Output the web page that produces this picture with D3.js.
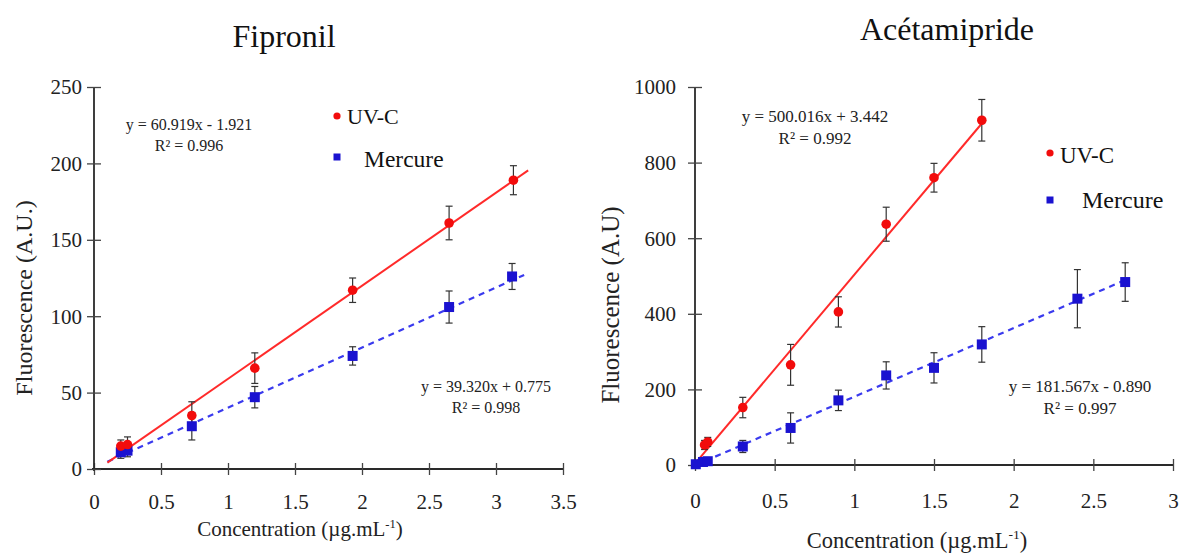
<!DOCTYPE html>
<html>
<head>
<meta charset="utf-8">
<script src="https://cdn.jsdelivr.net/npm/d3@7"></script>
<style>
  html, body { margin: 0; padding: 0; background: #fff; }
  svg { display: block; }
  svg text { font-family: "Liberation Serif", "Times New Roman", serif !important; }
</style>
</head>
<body>
<svg id="chart" width="1179" height="559"></svg>
<script>
// ---------- DATA ----------
// Fipronil
const fipTitle = "Fipronil";
const fipXTicks = [0, 0.5, 1, 1.5, 2, 2.5, 3, 3.5];
const fipYTicks = [0, 50, 100, 150, 200, 250];
const fipUvX   = [0.2, 0.25, 0.73, 1.2, 1.93, 2.65, 3.13];
const fipUvY   = [15, 16, 35, 66, 117, 161, 189];
const fipUvErr = [4, 5, 9, 10, 8, 11, 9.5];
const fipHgX   = [0.2, 0.25, 0.73, 1.2, 1.93, 2.65, 3.12];
const fipHgY   = [11, 12, 28, 47, 74, 106, 126];
const fipHgErr = [4, 4, 9, 7, 6, 10.5, 8.5];
const fipUvFit = [60.919, -1.921];   // slope, intercept
const fipHgFit = [39.320, 0.775];
const fipUvFitRange = [0.1, 3.24];
const fipHgFitRange = [0.1, 3.21];
const fipUvEq = ["y = 60.919x - 1.921", "R² = 0.996"];
const fipHgEq = ["y = 39.320x + 0.775", "R² = 0.998"];

// Acétamipride
const aceTitle = "Acétamipride";
const aceXTicks = [0, 0.5, 1, 1.5, 2, 2.5, 3];
const aceYTicks = [0, 200, 400, 600, 800, 1000];
const aceUvX   = [0.06, 0.08, 0.3, 0.6, 0.9, 1.2, 1.5, 1.8];
const aceUvY   = [53, 61, 152, 265, 405, 637, 760, 912];
const aceUvErr = [12, 12, 27, 54, 40, 45, 38, 55];
const aceHgX   = [0.005, 0.05, 0.08, 0.3, 0.6, 0.9, 1.2, 1.5, 1.8, 2.4, 2.7];
const aceHgY   = [2, 8, 10, 49, 98, 171, 237, 257, 319, 440, 484];
const aceHgErr = [3, 4, 4, 16, 40, 27, 36, 40, 47, 77, 51];
const aceUvFit = [500.016, 3.442];
const aceHgFit = [181.567, -0.890];
const aceUvFitRange = [0, 1.8];
const aceHgFitRange = [0, 2.7];
const aceUvEq = ["y = 500.016x + 3.442", "R² = 0.992"];
const aceHgEq = ["y = 181.567x - 0.890", "R² = 0.997"];

const seriesNames = ["UV-C", "Mercure"];
const yTitleFip = "Fluorescence (A.U.)";
const yTitleAce = "Fluorescence (A.U)";

// ---------- STYLE ----------
const FONT = "Liberation Serif, Times New Roman, serif";
const RED = "#f20c0c", RED_LINE = "#ff2a2a";
const BLUE = "#1a12d0", BLUE_LINE = "#3a3aee";
const AXIS = "#2a2a2a";

const svg = d3.select("#chart");

function drawPanel(cfg) {
  const x = d3.scaleLinear().domain(cfg.xDomain).range(cfg.xRange);
  const y = d3.scaleLinear().domain(cfg.yDomain).range(cfg.yRange);
  const g = svg.append("g").attr("font-family", FONT);

  // title
  g.append("text").attr("x", cfg.titlePos[0]).attr("y", cfg.titlePos[1])
    .attr("text-anchor", "middle").attr("font-size", 32).attr("fill", "#111")
    .attr("font-family", FONT).text(cfg.title);

  // x axis
  const xAxis = g.append("g").attr("transform", `translate(0,${cfg.yRange[0]})`)
    .call(d3.axisBottom(x).tickValues(cfg.xTicks).tickSize(0).tickFormat(d3.format("")));
  xAxis.attr("font-family", FONT);
  xAxis.select(".domain").attr("stroke", AXIS).attr("stroke-width", 1.8)
    .attr("d", `M${cfg.xRange[0] - 2},0H${cfg.xRange[1]}`);
  xAxis.selectAll(".tick line").attr("y1", -6).attr("y2", 6)
    .attr("stroke", "#444").attr("stroke-width", 1.3);
  xAxis.selectAll(".tick text").attr("y", cfg.xLabelDy).attr("dy", 0)
    .attr("font-size", 21).attr("fill", "#222").attr("font-family", FONT);

  // y axis
  const yAxis = g.append("g").attr("transform", `translate(${cfg.xRange[0]},0)`)
    .call(d3.axisLeft(y).tickValues(cfg.yTicks).tickSize(0).tickFormat(d3.format("d")));
  yAxis.attr("font-family", FONT);
  yAxis.select(".domain").attr("stroke", AXIS).attr("stroke-width", 1.8)
    .attr("d", `M0,${cfg.yRange[0] + 2}V${cfg.yRange[1]}`);
  yAxis.selectAll(".tick line").attr("x1", -7).attr("x2", 7)
    .attr("stroke", "#444").attr("stroke-width", 1.3);
  yAxis.selectAll(".tick text").attr("x", -cfg.yLabelGap).attr("dy", "0.33em")
    .attr("font-size", 21).attr("fill", "#222").attr("font-family", FONT);

  // axis titles
  g.append("text")
    .attr("transform", `translate(${cfg.yTitlePos[0]},${cfg.yTitlePos[1]}) rotate(-90)`)
    .attr("text-anchor", "middle").attr("font-size", cfg.yTitleSize).attr("fill", "#222")
    .attr("font-family", FONT).text(cfg.yTitle);
  const xt = g.append("text").attr("x", cfg.xTitlePos[0]).attr("y", cfg.xTitlePos[1])
    .attr("text-anchor", "middle").attr("font-size", cfg.xTitleSize).attr("fill", "#222")
    .attr("font-family", FONT);
  xt.append("tspan").text("Concentration (µg.mL");
  xt.append("tspan").attr("font-size", cfg.xTitleSize * 0.6).attr("dy", -cfg.xTitleSize * 0.4).text("-1");
  xt.append("tspan").attr("dy", cfg.xTitleSize * 0.4).text(")");

  // fit lines
  const line = d3.line().x(d => x(d[0])).y(d => y(d[1]));
  const fitPts = (fit, r) => r.map(v => [v, fit[0] * v + fit[1]]);
  g.append("path").datum(fitPts(cfg.hgFit, cfg.hgFitRange)).attr("d", line)
    .attr("stroke", BLUE_LINE).attr("stroke-width", 2.2).attr("fill", "none")
    .attr("stroke-dasharray", "6,5");
  g.append("path").datum(fitPts(cfg.uvFit, cfg.uvFitRange)).attr("d", line)
    .attr("stroke", RED_LINE).attr("stroke-width", 2).attr("fill", "none");

  // error bars
  function errBars(xs, ys, es) {
    const d = xs.map((v, i) => ({ x: v, y: ys[i], e: es[i] }));
    const eb = g.append("g").attr("stroke", "#333").attr("stroke-width", 1.2);
    eb.selectAll("line.v").data(d).join("line").attr("class", "v")
      .attr("x1", d => x(d.x)).attr("x2", d => x(d.x))
      .attr("y1", d => y(d.y - d.e)).attr("y2", d => y(d.y + d.e));
    eb.selectAll("line.t").data(d).join("line").attr("class", "t")
      .attr("x1", d => x(d.x) - 3.5).attr("x2", d => x(d.x) + 3.5)
      .attr("y1", d => y(d.y + d.e)).attr("y2", d => y(d.y + d.e));
    eb.selectAll("line.b").data(d).join("line").attr("class", "b")
      .attr("x1", d => x(d.x) - 3.5).attr("x2", d => x(d.x) + 3.5)
      .attr("y1", d => y(d.y - d.e)).attr("y2", d => y(d.y - d.e));
  }
  errBars(cfg.hgX, cfg.hgY, cfg.hgErr);
  errBars(cfg.uvX, cfg.uvY, cfg.uvErr);

  // markers
  const s = cfg.sq;
  g.selectAll("rect.hg").data(cfg.hgX.map((v, i) => [v, cfg.hgY[i]])).join("rect")
    .attr("class", "hg")
    .attr("x", d => x(d[0]) - s / 2).attr("y", d => y(d[1]) - s / 2)
    .attr("width", s).attr("height", s).attr("fill", BLUE);
  g.selectAll("circle.uv").data(cfg.uvX.map((v, i) => [v, cfg.uvY[i]])).join("circle")
    .attr("class", "uv")
    .attr("cx", d => x(d[0])).attr("cy", d => y(d[1])).attr("r", cfg.r).attr("fill", RED);

  // equations
  function eq(lines, pos, size) {
    lines.forEach((t, i) => {
      g.append("text").attr("x", pos[0]).attr("y", pos[1] + i * (size + 5))
        .attr("text-anchor", "middle").attr("font-size", size).attr("fill", "#222")
        .attr("font-family", FONT).text(t);
    });
  }
  eq(cfg.uvEq, cfg.uvEqPos, cfg.eqSize);
  eq(cfg.hgEq, cfg.hgEqPos, cfg.eqSize);

  // legend
  const L = cfg.legend;
  g.append("circle").attr("cx", L.uv[0]).attr("cy", L.uv[1]).attr("r", 3.6).attr("fill", RED);
  g.append("text").attr("x", L.uvText[0]).attr("y", L.uvText[1])
    .attr("font-size", L.size[0]).attr("fill", "#111").attr("font-family", FONT).text(seriesNames[0]);
  g.append("rect").attr("x", L.hg[0] - 3.5).attr("y", L.hg[1] - 3.5)
    .attr("width", 7).attr("height", 7).attr("fill", BLUE);
  g.append("text").attr("x", L.hgText[0]).attr("y", L.hgText[1])
    .attr("font-size", L.size[1]).attr("fill", "#111").attr("font-family", FONT).text(seriesNames[1]);
}

drawPanel({
  title: fipTitle, titlePos: [284, 47],
  xDomain: [0, 3.5], xRange: [94, 563], yDomain: [0, 250], yRange: [469, 87],
  xTicks: fipXTicks, yTicks: fipYTicks, xLabelDy: 40, yLabelGap: 12,
  yTitle: yTitleFip, yTitlePos: [32, 298], yTitleSize: 24,
  xTitlePos: [300, 536], xTitleSize: 21,
  uvX: fipUvX, uvY: fipUvY, uvErr: fipUvErr,
  hgX: fipHgX, hgY: fipHgY, hgErr: fipHgErr,
  uvFit: fipUvFit, hgFit: fipHgFit, uvFitRange: fipUvFitRange, hgFitRange: fipHgFitRange,
  uvEq: fipUvEq, hgEq: fipHgEq, uvEqPos: [189, 130], hgEqPos: [486, 392], eqSize: 16,
  r: 4.8, sq: 10,
  legend: { uv: [337, 116], uvText: [347, 124], hg: [337, 157], hgText: [364, 167], size: [22, 23.5] }
});

drawPanel({
  title: aceTitle, titlePos: [947, 40],
  xDomain: [0, 3], xRange: [695, 1173], yDomain: [0, 1000], yRange: [465, 87],
  xTicks: aceXTicks, yTicks: aceYTicks, xLabelDy: 43, yLabelGap: 19,
  yTitle: yTitleAce, yTitlePos: [619, 305], yTitleSize: 25,
  xTitlePos: [917, 548], xTitleSize: 22.5,
  uvX: aceUvX, uvY: aceUvY, uvErr: aceUvErr,
  hgX: aceHgX, hgY: aceHgY, hgErr: aceHgErr,
  uvFit: aceUvFit, hgFit: aceHgFit, uvFitRange: aceUvFitRange, hgFitRange: aceHgFitRange,
  uvEq: aceUvEq, hgEq: aceHgEq, uvEqPos: [815, 122], hgEqPos: [1080, 392], eqSize: 17,
  r: 4.8, sq: 10,
  legend: { uv: [1050, 153], uvText: [1060, 163], hg: [1050, 200], hgText: [1082, 208], size: [23, 24] }
});
</script>
</body>
</html>
